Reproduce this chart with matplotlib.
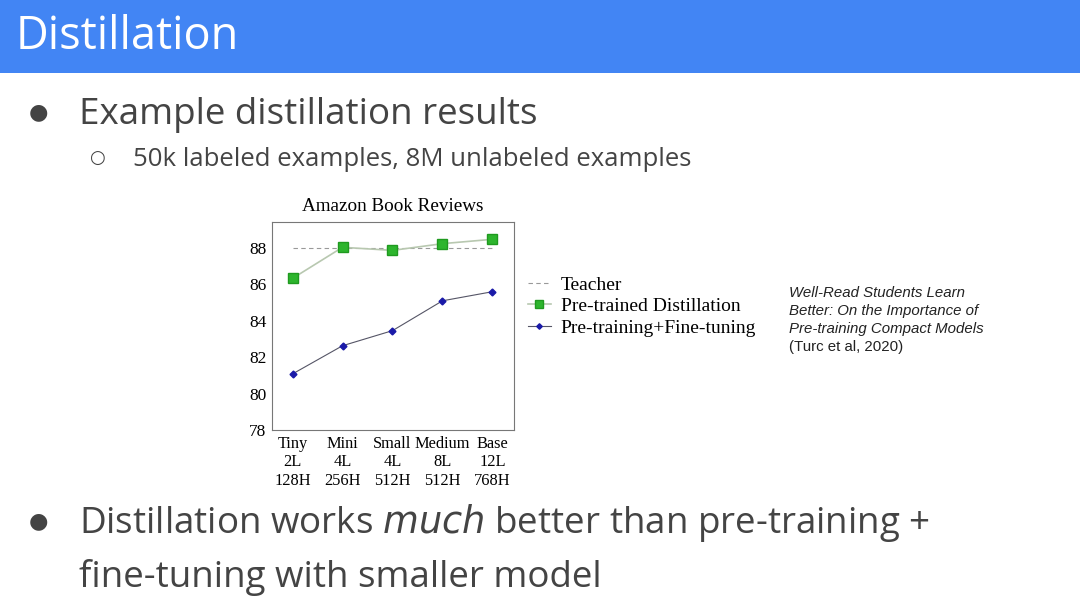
import matplotlib.pyplot as plt
from matplotlib.patches import Rectangle

# data
models = ['Tiny\n2L\n128H', 'Mini\n4L\n256H', 'Small\n4L\n512H', 'Medium\n8L\n512H', 'Base\n12L\n768H']
teacher = [88.0, 88.0, 88.0, 88.0, 88.0]
distill = [86.33, 88.04, 87.87, 88.24, 88.48]
finetune = [81.08, 82.63, 83.46, 85.10, 85.60]
yticks = [78, 80, 82, 84, 86, 88]

serif = 'Liberation Serif'
sans = 'Open Sans'

fig = plt.figure(figsize=(10.8, 6.08), dpi=100)
fig.patch.set_facecolor('white')

# slide header
fig.patches.append(Rectangle((0, 1 - 73 / 608), 1, 73 / 608, transform=fig.transFigure,
                             facecolor='#4285F4', edgecolor='none', zorder=0))
fig.text(16 / 1080, 1 - 37 / 608, 'Distillation', color='white', fontsize=32.5,
         family=sans, va='center', ha='left')

# bullets
txt = '#444444'
fig.text(38 / 1080, 1 - 112 / 608, '\u25CF', fontsize=16, color=txt, va='center', ha='center', family='DejaVu Sans')
fig.text(79 / 1080, 1 - 115 / 608, 'Example distillation results', fontsize=26.5,
         color=txt, family=sans, va='center')
fig.text(97 / 1080, 1 - 158 / 608, '\u25CB', fontsize=13, color=txt, va='center', ha='center', family='DejaVu Sans')
fig.text(133 / 1080, 1 - 159 / 608, '50k labeled examples, 8M unlabeled examples', fontsize=18.5,
         color=txt, family=sans, va='center')
fig.text(38 / 1080, 1 - 521 / 608, '\u25CF', fontsize=16, color=txt, va='center', ha='center', family='DejaVu Sans')
fig.text(79 / 1080, 1 - 523 / 608, 'Distillation works $\\mathit{much}$ better than pre-training +',
         fontsize=26.5, color=txt, family=sans, va='center')
fig.text(79 / 1080, 1 - 577 / 608, 'fine-tuning with smaller model', fontsize=26.5,
         color=txt, family=sans, va='center')

# citation
cite = ['Well-Read Students Learn', 'Better: On the Importance of', 'Pre-training Compact Models']
for i, line in enumerate(cite):
    fig.text(789 / 1080, 1 - (293 + 18 * i) / 608, line, fontsize=10.8, style='italic',
             family='Liberation Sans', color='#222222', va='center')
fig.text(789 / 1080, 1 - 347 / 608, '(Turc et al, 2020)', fontsize=10.8,
         family='Liberation Sans', color='#222222', va='center')

# chart
ax = fig.add_axes([272 / 1080, 1 - 430 / 608, 242 / 1080, 208 / 608])
x = list(range(len(models)))
ax.plot(x, teacher, linestyle=(0, (4, 3)), color='#999999', lw=0.8, label='Teacher')
ax.plot(x, distill, color='#b8c8b0', lw=1.2, marker='s', markersize=6.5,
        markerfacecolor='#2db52d', markeredgecolor='#1f9a1f', label='Pre-trained Distillation')
ax.plot(x, finetune, color='#555566', lw=0.8, marker='D', markersize=3.5,
        markerfacecolor='#1a1aa8', markeredgecolor='#1a1aa8', label='Pre-training+Fine-tuning')

ax.set_xlim(-0.41, 4.43)
ax.set_ylim(78, 89.43)
ax.set_yticks(yticks)
ax.set_yticklabels([str(v) for v in yticks], family=serif, fontsize=12.5)
ax.set_xticks(x)
ax.set_xticklabels(models, family=serif, fontsize=11.8, linespacing=1.22)
ax.tick_params(length=0, pad=4)
for s in ax.spines.values():
    s.set_color('#777777')
    s.set_linewidth(0.8)
ax.set_title('Amazon Book Reviews', family=serif, fontsize=13.8, pad=8)

ax.legend(loc='center left', bbox_to_anchor=(1.025, 0.595), frameon=False,
          prop={'family': serif, 'size': 14}, handlelength=1.2, handletextpad=0.5,
          labelspacing=0.2, borderaxespad=0, markerscale=0.8)

fig.savefig('out.png', dpi=100)
